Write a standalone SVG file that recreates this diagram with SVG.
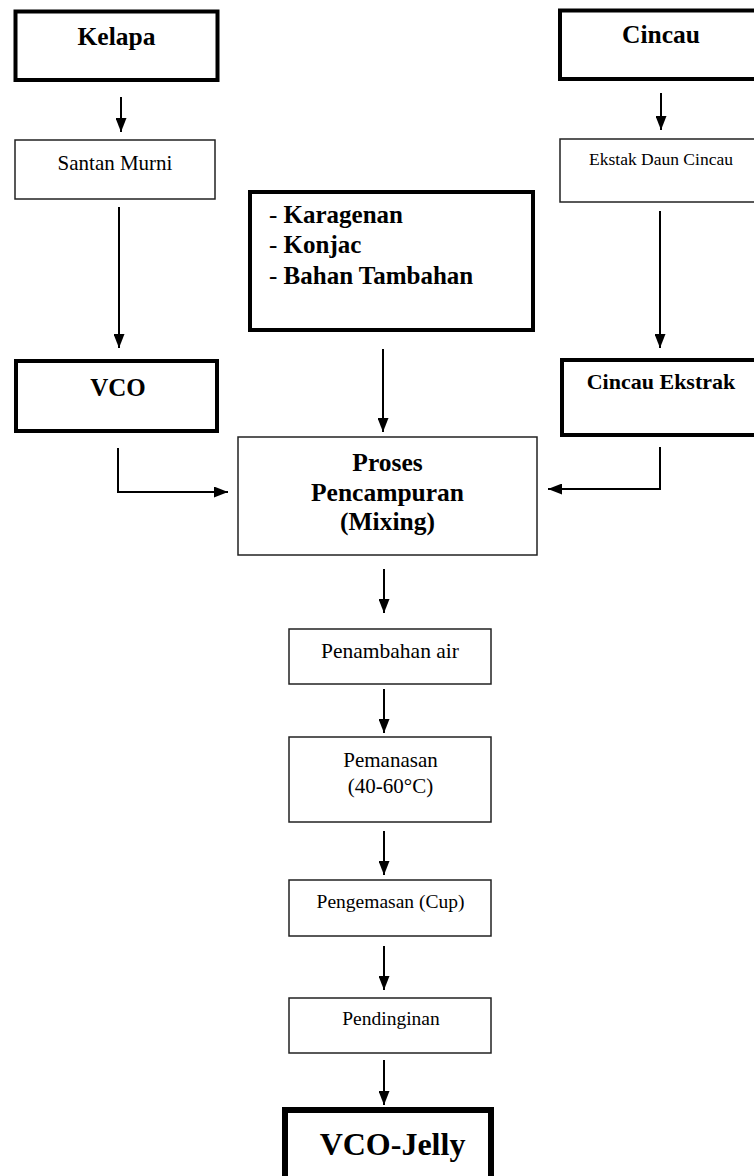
<svg xmlns="http://www.w3.org/2000/svg" width="754" height="1176" viewBox="0 0 754 1176">
<style>
  .thick{fill:#fff;stroke:#000;stroke-width:4}
  .thin{fill:#fff;stroke:#222;stroke-width:1.5}
  .heavy{fill:#fff;stroke:#000;stroke-width:6}
  text{font-family:"Liberation Serif","Times New Roman",serif;fill:#000;text-anchor:middle}
  .b{font-weight:bold}
  .conn path{fill:none;stroke:#000;stroke-width:2}
</style>
<defs>
  <marker id="ah" markerUnits="userSpaceOnUse" markerWidth="14" markerHeight="11" refX="14" refY="5.5" orient="auto">
    <path d="M0,0 L14,5.5 L0,11 z" fill="#000"/>
  </marker>
</defs>
<rect width="754" height="1176" fill="#fff"/>
<g id="kelapa"><rect class="thick" x="15.5" y="11.5" width="202" height="68.5"/><text class="b" x="116.5" y="45" font-size="25.5">Kelapa</text></g>
<g id="santan"><rect class="thin" x="15" y="140" width="200" height="59"/><text x="115" y="170" font-size="21">Santan Murni</text></g>
<g id="cincau"><rect class="thick" x="560" y="10.5" width="210" height="68.5"/><text class="b" x="661" y="43" font-size="25.5">Cincau</text></g>
<g id="ekstak"><rect class="thin" x="560" y="139" width="210" height="63"/><text x="661" y="165" font-size="17.5">Ekstak Daun Cincau</text></g>
<g id="bahan"><rect class="thick" x="250" y="192" width="283" height="138"/>
  <text x="269" y="223" font-size="25" style="text-anchor:start">- <tspan class="b">Karagenan</tspan></text>
  <text x="269" y="253" font-size="25" style="text-anchor:start">- <tspan class="b">Konjac</tspan></text>
  <text x="269" y="284" font-size="25" style="text-anchor:start">- <tspan class="b">Bahan Tambahan</tspan></text>
</g>
<g id="vco"><rect class="thick" x="16" y="361" width="201" height="70"/><text class="b" x="118" y="396" font-size="25">VCO</text></g>
<g id="cincauekstrak"><rect class="thick" x="562" y="360" width="210" height="75"/><text class="b" x="661" y="389" font-size="22">Cincau Ekstrak</text></g>
<g id="mixing"><rect class="thin" x="238" y="437" width="299" height="118"/>
  <text class="b" x="387.5" y="471" font-size="25.5">Proses</text>
  <text class="b" x="387.5" y="501" font-size="25.5">Pencampuran</text>
  <text class="b" x="387.5" y="530" font-size="25.5">(Mixing)</text>
</g>
<g id="penambahan"><rect class="thin" x="289" y="629" width="202" height="55"/><text x="390" y="658" font-size="21.5">Penambahan air</text></g>
<g id="pemanasan"><rect class="thin" x="289" y="737" width="202" height="85"/><text x="390.5" y="767" font-size="21">Pemanasan</text><text x="390.5" y="793" font-size="21">(40-60°C)</text></g>
<g id="pengemasan"><rect class="thin" x="289" y="880" width="202" height="56"/><text x="390.5" y="908" font-size="19.5">Pengemasan (Cup)</text></g>
<g id="pendinginan"><rect class="thin" x="289" y="998" width="202" height="55"/><text x="391" y="1025" font-size="19.5">Pendinginan</text></g>
<g id="vcojelly"><rect class="heavy" x="285" y="1110" width="206" height="80"/><text class="b" x="392.5" y="1155" font-size="32">VCO-Jelly</text></g>
<g class="conn" id="connectors">
  <path d="M121,97 V132" marker-end="url(#ah)"/>
  <path d="M119,207 V348" marker-end="url(#ah)"/>
  <path d="M661,93 V130" marker-end="url(#ah)"/>
  <path d="M660,211 V348" marker-end="url(#ah)"/>
  <path d="M383,349 V432" marker-end="url(#ah)"/>
  <path d="M118,448 V492 H228" marker-end="url(#ah)"/>
  <path d="M660,447 V489 H548" marker-end="url(#ah)"/>
  <path d="M384,569 V613" marker-end="url(#ah)"/>
  <path d="M384,689 V733" marker-end="url(#ah)"/>
  <path d="M384,831 V875" marker-end="url(#ah)"/>
  <path d="M384,946 V990" marker-end="url(#ah)"/>
  <path d="M384,1060 V1105" marker-end="url(#ah)"/>
</g>
</svg>
